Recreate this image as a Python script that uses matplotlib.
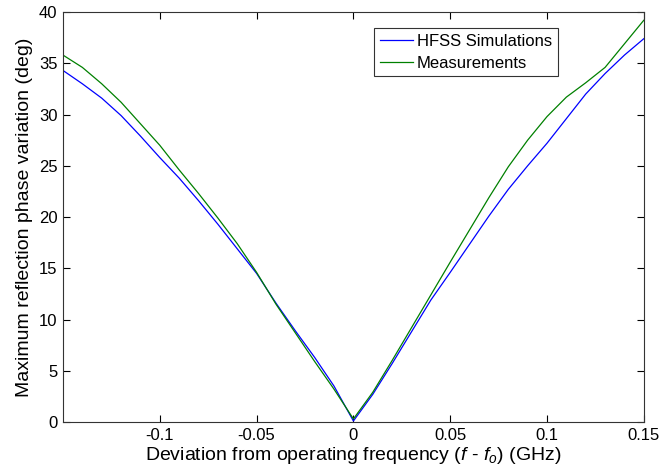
import matplotlib

matplotlib.use("Agg")
import matplotlib.pyplot as plt

# deviation from operating frequency (GHz)
freq_dev = [
    -0.15, -0.14, -0.13, -0.12, -0.11, -0.10, -0.09, -0.08, -0.07, -0.06,
    -0.05, -0.04, -0.03, -0.02, -0.01, 0.00, 0.01, 0.02, 0.03, 0.04,
    0.05, 0.06, 0.07, 0.08, 0.09, 0.10, 0.11, 0.12, 0.13, 0.14, 0.15,
]

hfss_sim = [
    34.3, 33.0, 31.6, 29.9, 27.9, 25.8, 23.8, 21.6, 19.3, 16.9,
    14.5, 11.6, 8.9, 6.3, 3.5, 0.1, 2.7, 5.7, 8.8, 11.9,
    14.6, 17.35, 20.1, 22.7, 25.0, 27.2, 29.6, 32.0, 34.0, 35.8, 37.4,
]

measured = [
    35.8, 34.6, 33.0, 31.2, 29.1, 27.0, 24.6, 22.3, 19.9, 17.4,
    14.6, 11.5, 8.7, 5.9, 3.2, 0.3, 2.9, 6.0, 9.2, 12.4,
    15.6, 18.75, 21.9, 24.9, 27.5, 29.8, 31.7, 33.1, 34.6, 36.9, 39.2,
]

x_ticks = [-0.1, -0.05, 0, 0.05, 0.1, 0.15]
x_tick_labels = ["-0.1", "-0.05", "0", "0.05", "0.1", "0.15"]
y_ticks = [0, 5, 10, 15, 20, 25, 30, 35, 40]

plt.rcParams["font.family"] = ["Liberation Sans", "DejaVu Sans"]
plt.rcParams["mathtext.fontset"] = "custom"
plt.rcParams["mathtext.rm"] = "Liberation Sans"
plt.rcParams["mathtext.it"] = "Liberation Sans:italic"

fig = plt.figure(figsize=(6.61, 4.76), dpi=100)
ax = fig.add_axes([0.0953, 0.1134, 0.8787, 0.8613])

ax.plot(freq_dev, hfss_sim, color="#0000ff", lw=0.9, label="HFSS Simulations")
ax.plot(freq_dev, measured, color="#008000", lw=0.9, label="Measurements")

ax.set_xlim(-0.15, 0.15)
ax.set_ylim(0, 40)
ax.set_xticks(x_ticks)
ax.set_xticklabels(x_tick_labels)
ax.set_yticks(y_ticks)
ax.tick_params(direction="in", length=5, width=0.8, labelsize=12,
               top=True, right=True, pad=4)
for s in ax.spines.values():
    s.set_linewidth(0.8)
    s.set_color("#333333")

ax.set_xlabel("Deviation from operating frequency ($f$ - $f_o$) (GHz)", fontsize=14, labelpad=2)
ax.set_ylabel("Maximum reflection phase variation (deg)", fontsize=14, labelpad=4)

leg = ax.legend(loc="upper left", bbox_to_anchor=(0.535, 0.961), fontsize=12,
                frameon=True, fancybox=False, edgecolor="black", handlelength=2.0,
                handletextpad=0.25, borderpad=0.35, labelspacing=0.4, borderaxespad=0)
leg.get_frame().set_linewidth(0.8)

fig.savefig("out.png", dpi=100)
